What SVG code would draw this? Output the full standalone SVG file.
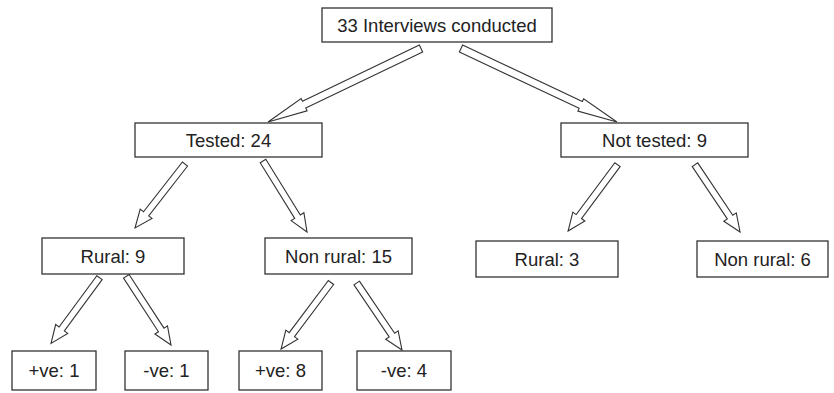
<svg xmlns="http://www.w3.org/2000/svg" width="834" height="393" viewBox="0 0 834 393">
<style>
.box{fill:#fff;stroke:#333;stroke-width:1.3}
.lbl{font-family:"Liberation Sans",Arial,sans-serif;font-size:18.5px;fill:#222;text-anchor:middle}
.arr{fill:#fff;stroke:#333;stroke-width:1.1;stroke-linejoin:miter}
</style>
<rect width="834" height="393" fill="#fff"/>
<g id="connectors">
<path class="arr" transform="translate(421,48.5) rotate(154.34)" d="M0,-3.8 L129.7,-3.8 L129.7,-6.8 L169.7,0 L129.7,6.8 L129.7,3.8 L0,3.8 Z"/>
<path class="arr" transform="translate(461,48.5) rotate(25.23)" d="M0,-3.8 L132.4,-3.8 L132.4,-6.8 L172.4,0 L132.4,6.8 L132.4,3.8 L0,3.8 Z"/>
<path class="arr" transform="translate(185,164) rotate(128)" d="M0,-3.3 L63.2,-3.3 L63.2,-7.5 L81.2,0 L63.2,7.5 L63.2,3.3 L0,3.3 Z"/>
<path class="arr" transform="translate(263,161) rotate(58.2)" d="M0,-3.3 L65.5,-3.3 L65.5,-7.5 L83.5,0 L65.5,7.5 L65.5,3.3 L0,3.3 Z"/>
<path class="arr" transform="translate(617.5,164.7) rotate(126.7)" d="M0,-3.3 L64.7,-3.3 L64.7,-7.5 L82.7,0 L64.7,7.5 L64.7,3.3 L0,3.3 Z"/>
<path class="arr" transform="translate(695,164.7) rotate(56.2)" d="M0,-3.3 L63,-3.3 L63,-7.5 L81,0 L63,7.5 L63,3.3 L0,3.3 Z"/>
<path class="arr" transform="translate(99.5,277.7) rotate(126.4)" d="M0,-3.3 L63.7,-3.3 L63.7,-7.5 L81.7,0 L63.7,7.5 L63.7,3.3 L0,3.3 Z"/>
<path class="arr" transform="translate(126.3,276.3) rotate(56.95)" d="M0,-3.3 L64,-3.3 L64,-7.5 L82,0 L64,7.5 L64,3.3 L0,3.3 Z"/>
<path class="arr" transform="translate(331,282.5) rotate(126.9)" d="M0,-3.3 L65.2,-3.3 L65.2,-7.5 L83.2,0 L65.2,7.5 L65.2,3.3 L0,3.3 Z"/>
<path class="arr" transform="translate(356.7,283) rotate(55.94)" d="M0,-3.3 L62.9,-3.3 L62.9,-7.5 L80.9,0 L62.9,7.5 L62.9,3.3 L0,3.3 Z"/>
</g>
<g id="root"><rect class="box" x="322" y="8" width="230" height="34"/><text class="lbl" x="437" y="32">33 Interviews conducted</text></g>
<g id="tested"><rect class="box" x="135" y="123" width="187" height="34"/><text class="lbl" x="228.5" y="146.5">Tested: 24</text></g>
<g id="nottested"><rect class="box" x="561" y="123" width="187" height="34"/><text class="lbl" x="654.5" y="146.5">Not tested: 9</text></g>
<g id="rural9"><rect class="box" x="42" y="238" width="142" height="36"/><text class="lbl" x="113" y="262.5">Rural: 9</text></g>
<g id="nonrural15"><rect class="box" x="265" y="238" width="147" height="36"/><text class="lbl" x="338.5" y="262.5">Non rural: 15</text></g>
<g id="rural3"><rect class="box" x="476" y="241" width="142" height="36"/><text class="lbl" x="547" y="265.5">Rural: 3</text></g>
<g id="nonrural6"><rect class="box" x="697" y="241" width="131" height="36"/><text class="lbl" x="762.5" y="265.5">Non rural: 6</text></g>
<g id="pos1"><rect class="box" x="12" y="351" width="84" height="39"/><text class="lbl" x="54" y="377">+ve: 1</text></g>
<g id="neg1"><rect class="box" x="125" y="351" width="83" height="39"/><text class="lbl" x="166.5" y="377">-ve: 1</text></g>
<g id="pos8"><rect class="box" x="239" y="351" width="83" height="39"/><text class="lbl" x="280.5" y="377">+ve: 8</text></g>
<g id="neg4"><rect class="box" x="357" y="351" width="94" height="39"/><text class="lbl" x="404" y="377">-ve: 4</text></g>
</svg>
